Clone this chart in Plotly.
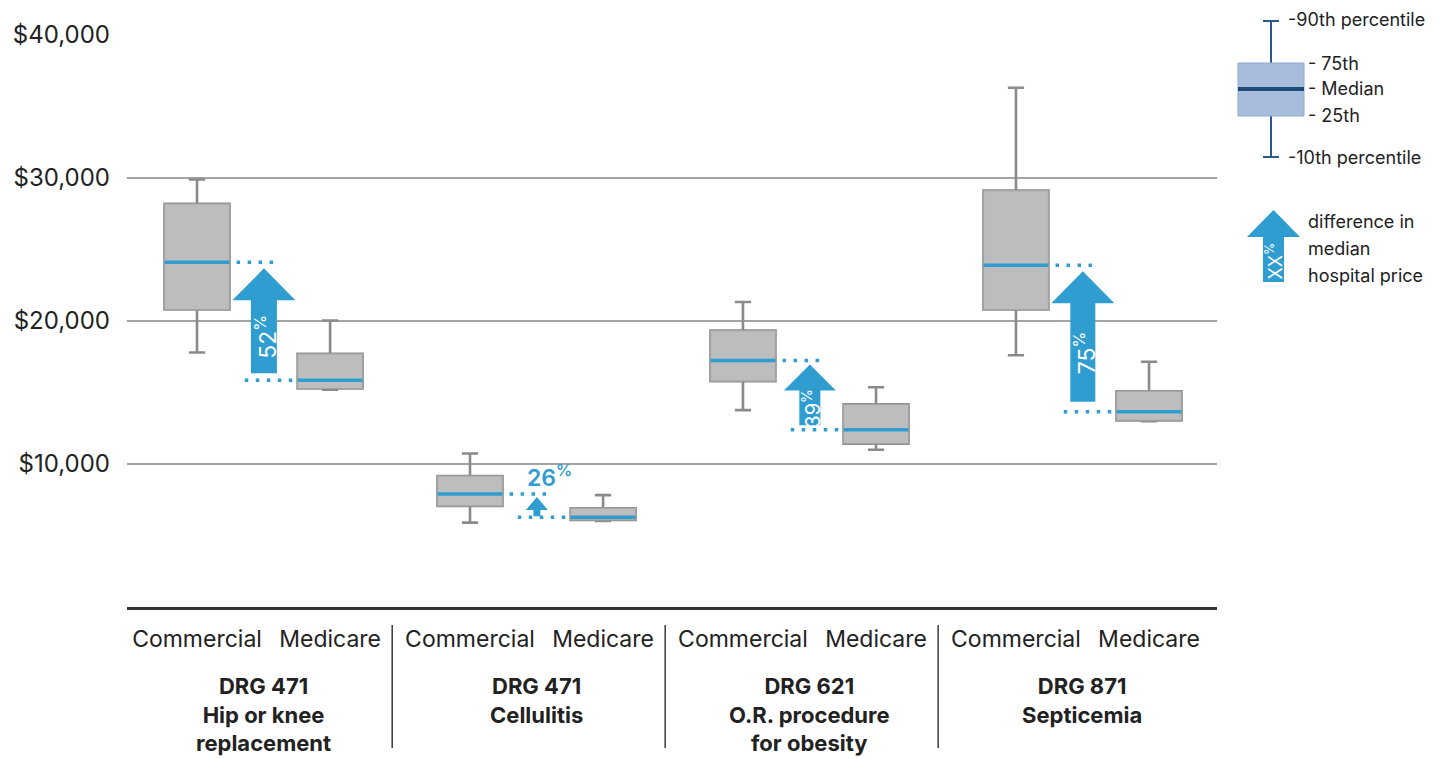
import plotly.graph_objects as go

# ---- data -------------------------------------------------------------
groups = ["DRG 471<br>Hip or knee<br>replacement",
          "DRG 471<br>Cellulitis",
          "DRG 621<br>O.R. procedure<br>for obesity",
          "DRG 871<br>Septicemia"]
payers = ["Commercial", "Medicare"]

# percentile summaries per group: [commercial, medicare]
p10 = [[17800, 15200], [5900, 6020], [13770, 11000], [17600, 13000]]
p25 = [[20800, 15280], [7070, 6090], [15790, 11420], [20800, 13050]]
p50 = [[24100, 15850], [7900, 6270], [17240, 12400], [23900, 13650]]
p75 = [[28190, 17700], [9160, 6910], [19330, 14170], [29120, 15090]]
p90 = [[29900, 20030], [10730, 7820], [21330, 15370], [36310, 17150]]

y_ticks = [10000, 20000, 30000, 40000]

# ---- layout constants -------------------------------------------------
W, H = 1441, 759
L, R, T, B = 127, 224, 35, 152
PLOT_W = W - L - R
PLOT_H = H - T - B
Y_MAX = 40000
X_RANGE = [-0.513, 7.473]
PX_PER_X = PLOT_W / (X_RANGE[1] - X_RANGE[0])
PX_PER_Y = PLOT_H / Y_MAX

GROUP_STEP = 2.0
MED_OFFSET = 0.975
BOX_W = 0.476

FONT = "Inter, Roboto, Arial, sans-serif"
TXT = "#222222"
BLUE = "#2f9dcf"
BOX_FILL = "#bcbdbf"
BOX_EDGE = "#a3a3a3"
WHISK = "#8a8a8a"


def px_dx(px):
    return px / PX_PER_X


def px_dy(px):
    return px / PX_PER_Y


def paper_x(px):
    return (px - L) / PLOT_W


def paper_y(py):
    return (T + PLOT_H - py) / PLOT_H


xs, q1, med, q3, lo, hi = [], [], [], [], [], []
for g in range(len(groups)):
    for k in range(2):
        xs.append(g * GROUP_STEP + k * MED_OFFSET)
        lo.append(p10[g][k])
        q1.append(p25[g][k])
        med.append(p50[g][k])
        q3.append(p75[g][k])
        hi.append(p90[g][k])

fig = go.Figure()

# whiskers (10th-90th percentile)
fig.add_trace(go.Box(
    x=xs, q1=q1, median=med, q3=q3, lowerfence=lo, upperfence=hi,
    width=BOX_W, whiskerwidth=0.25, fillcolor=BOX_FILL,
    line=dict(color=WHISK, width=2.6), hoverinfo="skip", showlegend=False,
))
# boxes (25th-75th percentile)
fig.add_trace(go.Box(
    x=xs, q1=q1, median=med, q3=q3, lowerfence=q1, upperfence=q3,
    width=BOX_W, whiskerwidth=0, fillcolor=BOX_FILL,
    line=dict(color=BOX_EDGE, width=1.2), hoverinfo="skip", showlegend=False,
))

# median lines
mx, my = [], []
for x, m in zip(xs, med):
    mx += [x - BOX_W / 2, x + BOX_W / 2, None]
    my += [m, m, None]
fig.add_trace(go.Scatter(x=mx, y=my, mode="lines",
                         line=dict(color=BLUE, width=3.5),
                         hoverinfo="skip", showlegend=False))

shapes = []
annotations = []

# arrow styles per group: head half-width, shaft half-width, head length,
# gap above lower median, gap below upper median (all in px)
arrow_style = [
    dict(hw=31.5, sw=13, hl=32, gb=7, gt=6, fs=23),
    dict(hw=11, sw=3.5, hl=13, gb=1, gt=3, fs=0),
    dict(hw=26, sw=10.5, hl=26, gb=4.5, gt=4, fs=20),
    dict(hw=31.5, sw=12.5, hl=32, gb=10, gt=6, fs=23),
]

dot_style = dict(color=BLUE, width=3.5, dash="3.5px,7.5px")

for g in range(len(groups)):
    cx = g * GROUP_STEP
    mxp = cx + MED_OFFSET
    c_med, m_med = p50[g]
    pct = round((c_med / m_med - 1) * 100)
    st = arrow_style[g]
    ax = cx + 0.49

    # dotted guides at both medians
    shapes.append(dict(type="line", xref="x", yref="y",
                       x0=cx + 0.29, x1=cx + 0.57, y0=c_med, y1=c_med,
                       line=dot_style))
    shapes.append(dict(type="line", xref="x", yref="y",
                       x0=cx + 0.35, x1=mxp - 0.27, y0=m_med, y1=m_med,
                       line=dot_style))

    # arrow from the lower median to the higher one
    yb = m_med + px_dy(st["gb"])
    yt = c_med - px_dy(st["gt"])
    yh = yt - px_dy(st["hl"])
    hw, sw = px_dx(st["hw"]), px_dx(st["sw"])
    path = (f"M {ax - sw},{yb} L {ax + sw},{yb} L {ax + sw},{yh} "
            f"L {ax + hw},{yh} L {ax},{yt} L {ax - hw},{yh} "
            f"L {ax - sw},{yh} Z")
    shapes.append(dict(type="path", xref="x", yref="y", path=path,
                       fillcolor=BLUE, line=dict(width=0)))

    if st["fs"]:
        annotations.append(dict(
            x=ax, y=(yb + yh) / 2, xref="x", yref="y",
            text=f"{pct}<sup>%</sup>", xshift=2,
            xanchor="center", yanchor="middle",
            textangle=-90, showarrow=False,
            font=dict(family=FONT, size=st["fs"], color="white"),
        ))
    else:
        annotations.append(dict(
            x=ax, y=c_med, xref="x", yref="y", text=f"{pct}<sup>%</sup>",
            xanchor="left", yanchor="bottom", xshift=-12, yshift=0,
            showarrow=False,
            font=dict(family=FONT, size=23, color=BLUE, weight=600),
        ))

    # group title
    annotations.append(dict(
        x=cx + MED_OFFSET / 2, y=paper_y(671), xref="x", yref="paper",
        text=f"<b>{groups[g]}</b>", showarrow=False,
        xanchor="center", yanchor="top",
        font=dict(family=FONT, size=22, color=TXT),
    ))
    # divider between groups
    if g < len(groups) - 1:
        dx = cx + 1.43
        shapes.append(dict(type="line", xref="x", yref="paper",
                           x0=dx, x1=dx, y0=paper_y(625), y1=paper_y(748),
                           line=dict(color="#3a3a3a", width=1.5)))

# ---- key (box anatomy and arrow) -------------------------------------
KW = "#285a8c"
kx = 1271
shapes += [
    dict(type="line", xref="paper", yref="paper",
         x0=paper_x(kx), x1=paper_x(kx), y0=paper_y(21), y1=paper_y(157),
         line=dict(color=KW, width=2)),
    dict(type="line", xref="paper", yref="paper",
         x0=paper_x(kx - 8), x1=paper_x(kx + 8), y0=paper_y(21), y1=paper_y(21),
         line=dict(color=KW, width=2)),
    dict(type="line", xref="paper", yref="paper",
         x0=paper_x(kx - 8), x1=paper_x(kx + 8), y0=paper_y(157), y1=paper_y(157),
         line=dict(color=KW, width=2)),
    dict(type="rect", xref="paper", yref="paper",
         x0=paper_x(1238), x1=paper_x(1304), y0=paper_y(116), y1=paper_y(63),
         fillcolor="#a8bddc", line=dict(color="#8fa9cf", width=1)),
    dict(type="line", xref="paper", yref="paper",
         x0=paper_x(1238), x1=paper_x(1304), y0=paper_y(89), y1=paper_y(89),
         line=dict(color="#1d4a78", width=4)),
]
kax = 1273.5
ptsx = [kax - 10.5, kax + 10.5, kax + 10.5, kax + 26.5, kax, kax - 26.5, kax - 10.5]
ptsy = [282, 282, 237, 237, 210, 237, 237]
kpath = "M " + " L ".join(f"{paper_x(a)},{paper_y(b)}" for a, b in zip(ptsx, ptsy)) + " Z"
shapes.append(dict(type="path", xref="paper", yref="paper", path=kpath,
                   fillcolor=BLUE, line=dict(width=0)))
annotations.append(dict(x=paper_x(kax + 1), y=paper_y(261), xref="paper", yref="paper",
                        text="XX<sup>%</sup>", textangle=-90, showarrow=False,
                        xanchor="center", yanchor="middle",
                        font=dict(family=FONT, size=18, color="white")))

key_labels = [("-90th percentile", 1286, 19), ("- 75th", 1306, 63),
              ("- Median", 1306, 89), ("- 25th", 1306, 115),
              ("-10th percentile", 1286, 158), ("difference in", 1306, 221),
              ("median", 1306, 248), ("hospital price", 1306, 275)]
for txt, x, y in key_labels:
    annotations.append(dict(x=paper_x(x), y=paper_y(y), xref="paper", yref="paper",
                            text=txt, xanchor="left", yanchor="middle",
                            showarrow=False,
                            font=dict(family=FONT, size=18, color=TXT)))

fig.update_layout(
    width=W, height=H,
    margin=dict(l=L, r=R, t=T, b=B, pad=0),
    paper_bgcolor="white", plot_bgcolor="white",
    boxmode="overlay", showlegend=False,
    shapes=shapes, annotations=annotations,
    xaxis=dict(range=X_RANGE, tickvals=xs, ticktext=payers * len(groups),
               showgrid=False, zeroline=False, showline=True,
               linecolor="#333333", linewidth=2.5, ticks="",
               ticklabelstandoff=10,
               tickfont=dict(family=FONT, size=23, color=TXT)),
    yaxis=dict(range=[0, Y_MAX], tickvals=y_ticks,
               ticktext=[f"${v:,}" for v in y_ticks],
               showgrid=True, gridcolor="#a4a4a4", gridwidth=1.5,
               zeroline=False, showline=False, ticks="",
               ticklabelstandoff=16,
               tickfont=dict(family=FONT, size=24, color=TXT)),
)

fig.write_html("out.html", config={"displayModeBar": False})
